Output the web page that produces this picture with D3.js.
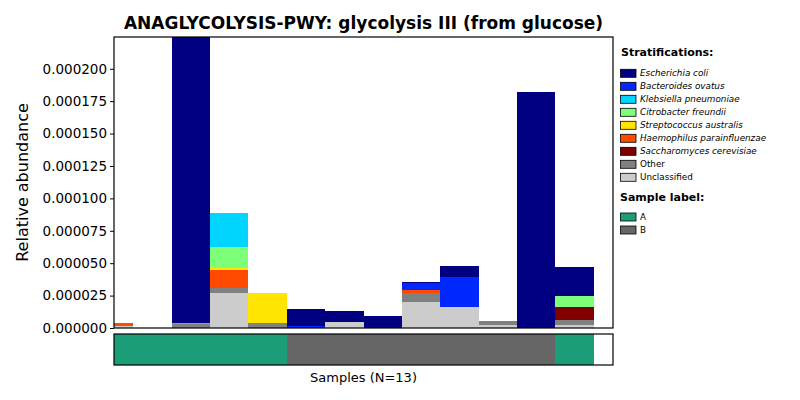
<!DOCTYPE html>
<html>
<head>
<meta charset="utf-8">
<script src="https://cdnjs.cloudflare.com/ajax/libs/d3/7.8.5/d3.min.js"></script>
<style>
    body { margin: 0; background: #fff; }
    svg { font-family: "DejaVu Sans", sans-serif; }
</style>
</head>
<body>
<svg id="chart" width="800" height="400"></svg>
<script>
// Chart data
var title = "ANAGLYCOLYSIS-PWY: glycolysis III (from glucose)";
var samples = d3.range(13);
var sampleLabels = ["A", "A", "A", "A", "A", "B", "B", "B", "B", "B", "B", "B", "A"];
var labelNames = ["A", "B"];
var labelColors = ["#1b9e77", "#666666"];

// legend order (top of the stack first)
var species = [
    "Escherichia coli",
    "Bacteroides ovatus",
    "Klebsiella pneumoniae",
    "Citrobacter freundii",
    "Streptococcus australis",
    "Haemophilus parainfluenzae",
    "Saccharomyces cerevisiae",
    "Other",
    "Unclassified"
];
var speciesColors = ["#000080", "#0028ff", "#00d4ff", "#7dff7a", "#ffe500", "#ff4a00", "#800000", "#808080", "#cccccc"];
var italicSpecies = [true, true, true, true, true, true, true, false, false];

// values in units of 1e-6
var ecoli     = [0, 0, 260, 0, 0, 12.8, 8.7, 8.9, 1.0, 8.5, 0, 182, 22.4];
var bovatus   = [0, 0, 0, 0, 0, 1.5, 0, 0, 5.1, 22.9, 0, 0, 0];
var kpneum    = [0, 0, 0.7, 26.2, 0, 0, 0, 0, 0, 0, 0, 0, 0];
var cfreund   = [0, 0, 0, 16.0, 0, 0, 0, 0, 0, 0, 0, 0, 8.5];
var saustr    = [0, 0, 0, 1.5, 23.2, 0, 0, 0, 0, 0, 0, 0, 0];
var hparainf  = [2.3, 0, 0, 13.9, 0, 0, 0, 0, 2.6, 0, 0, 0, 0];
var scerev    = [0, 0, 0, 0, 0, 0, 0, 0, 0, 0, 0, 0, 10.0];
var other     = [0, 0, 3.1, 4.1, 3.5, 0, 0, 0, 6.7, 0, 3.1, 0, 3.9];
var unclass   = [1.2, 0, 0, 27.0, 0, 0, 4.4, 0, 20.1, 16.5, 2.3, 0, 2.3];
var seriesValues = [ecoli, bovatus, kpneum, cfreund, saustr, hparainf, scerev, other, unclass];

var yTicks = [0, 0.000025, 0.00005, 0.000075, 0.0001, 0.000125, 0.00015, 0.000175, 0.0002];
var yMax = 0.0002245;

var svg = d3.select("#chart");
var plot = {left: 114, right: 613, top: 37, bottom: 328};
var strip = {top: 334, bottom: 365};

// bars are centred on integer positions, axis runs 0..13
var x = d3.scaleLinear().domain([0, 13]).range([plot.left, plot.right]);
var y = d3.scaleLinear().domain([0, yMax]).range([plot.bottom, plot.top]);

svg.append("defs").append("clipPath").attr("id", "plot-clip")
    .append("rect")
    .attr("x", plot.left).attr("y", plot.top)
    .attr("width", plot.right - plot.left).attr("height", plot.bottom - plot.top);

// stack bottom-up: Unclassified first
var keys = species.slice().reverse();
var table = samples.map(function (s) {
    var row = {sample: s};
    species.forEach(function (name, k) { row[name] = seriesValues[k][s] * 1e-6; });
    return row;
});
var stacked = d3.stack().keys(keys)(table);

var bars = svg.append("g")
    .attr("clip-path", "url(#plot-clip)")
    .attr("shape-rendering", "crispEdges");
stacked.forEach(function (layer) {
    var color = speciesColors[species.indexOf(layer.key)];
    bars.append("g")
        .attr("fill", color)
        .selectAll("rect")
        .data(layer)
        .enter()
        .append("rect")
        .attr("x", function (d) { return x(d.data.sample - 0.5); })
        .attr("width", x(1) - x(0))
        .attr("y", function (d) { return y(d[1]); })
        .attr("height", function (d) { return y(d[0]) - y(d[1]); });
});

// plot frame
svg.append("rect")
    .attr("x", plot.left).attr("y", plot.top)
    .attr("width", plot.right - plot.left).attr("height", plot.bottom - plot.top)
    .attr("fill", "none").attr("stroke", "#000").attr("stroke-width", 1.2);

// y axis
var yAxis = svg.append("g")
    .attr("transform", "translate(" + plot.left + ",0)")
    .call(d3.axisLeft(y).tickValues(yTicks).tickFormat(d3.format(".6f")).tickSize(4).tickPadding(3));
yAxis.select(".domain").remove();
yAxis.selectAll("text")
    .style("font-family", "DejaVu Sans")
    .style("font-size", "13.5px")
    .attr("fill", "#000");

// title and axis labels
svg.append("text")
    .attr("x", (plot.left + plot.right) / 2)
    .attr("y", 29)
    .attr("text-anchor", "middle")
    .style("font-size", "17px")
    .style("font-weight", "bold")
    .text(title);

svg.append("text")
    .attr("transform", "translate(28," + ((plot.top + plot.bottom) / 2) + ") rotate(-90)")
    .attr("text-anchor", "middle")
    .style("font-size", "16px")
    .text("Relative abundance");

svg.append("text")
    .attr("x", (plot.left + plot.right) / 2)
    .attr("y", 382)
    .attr("text-anchor", "middle")
    .style("font-size", "13px")
    .text("Samples (N=" + samples.length + ")");

// sample label strip
svg.append("defs").append("clipPath").attr("id", "strip-clip")
    .append("rect")
    .attr("x", plot.left).attr("y", strip.top)
    .attr("width", plot.right - plot.left).attr("height", strip.bottom - strip.top);

svg.append("g")
    .attr("clip-path", "url(#strip-clip)")
    .attr("shape-rendering", "crispEdges")
    .selectAll("rect")
    .data(samples)
    .enter()
    .append("rect")
    .attr("x", function (s) { return x(s - 0.5); })
    .attr("width", x(1) - x(0) + 0.5)
    .attr("y", strip.top)
    .attr("height", strip.bottom - strip.top)
    .attr("fill", function (s) { return labelColors[labelNames.indexOf(sampleLabels[s])]; });

svg.append("rect")
    .attr("x", plot.left).attr("y", strip.top)
    .attr("width", plot.right - plot.left).attr("height", strip.bottom - strip.top)
    .attr("fill", "none").attr("stroke", "#000").attr("stroke-width", 1.2);

// legend
var legend = svg.append("g").attr("transform", "translate(620,0)");

legend.append("text")
    .attr("x", 1).attr("y", 56)
    .style("font-size", "11px")
    .style("font-weight", "bold")
    .text("Stratifications:");

species.forEach(function (name, i) {
    var cy = 73.3 + i * 13;
    legend.append("rect")
        .attr("x", 0.5).attr("y", cy - 4)
        .attr("width", 15.5).attr("height", 8)
        .attr("fill", speciesColors[i])
        .attr("stroke", "#000").attr("stroke-width", 0.8);
    legend.append("text")
        .attr("x", 20).attr("y", cy + 3)
        .style("font-size", "8.8px")
        .style("font-style", italicSpecies[i] ? "italic" : "normal")
        .text(name);
});

legend.append("text")
    .attr("x", 0).attr("y", 200.5)
    .style("font-size", "11px")
    .style("font-weight", "bold")
    .text("Sample label:");

labelNames.forEach(function (name, i) {
    var cy = 217 + i * 13;
    legend.append("rect")
        .attr("x", 0.5).attr("y", cy - 4)
        .attr("width", 15.5).attr("height", 8)
        .attr("fill", labelColors[i])
        .attr("stroke", "#000").attr("stroke-width", 0.8);
    legend.append("text")
        .attr("x", 20).attr("y", cy + 3)
        .style("font-size", "8.8px")
        .text(name);
});
</script>
</body>
</html>
